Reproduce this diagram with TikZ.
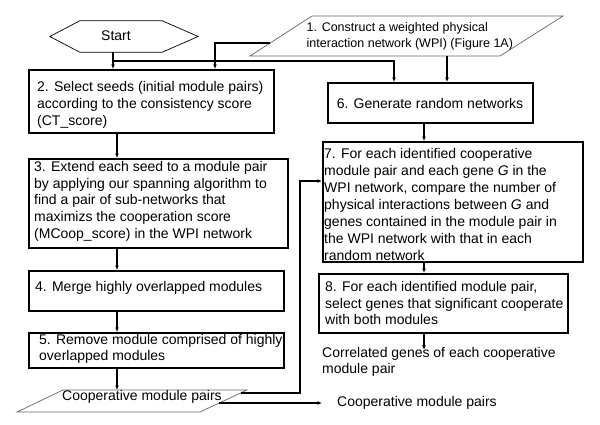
\documentclass[tikz,border=0pt]{standalone}
\usepackage{fontspec}
\setmainfont{Liberation Sans}
\usetikzlibrary{arrows.meta,calc}
\begin{document}
\begin{tikzpicture}[x=1pt,y=-1pt,
  box/.style={draw, line width=1.8pt, inner sep=0, anchor=north west},
  txt/.style={inner sep=0, anchor=north west, align=left, font=\fontsize{14}{17}\selectfont},
  conn/.style={line width=1.3pt, -{Latex[length=4.5pt,width=4pt]}},
  para/.style={draw=black!60, line width=0.7pt},
]
\useasboundingbox[fill=white] (0,0) rectangle (600,424);

% column coordinates
\coordinate (xa) at (113,0);
\coordinate (xb) at (117,0);
\coordinate (xc) at (215,0);
\coordinate (xd) at (394,0);
\coordinate (xe) at (447,0);
\coordinate (xf) at (424,0);
\coordinate (xg) at (300,0);
\coordinate (ya) at (0,61);
\coordinate (yb) at (0,181);

% Start hexagon
\node[minimum width=148, minimum height=31, inner sep=0] (start) at (124,36.5) {};
\draw[line width=0.7pt] (start.west) -- ([xshift=30]start.north west) -- ([xshift=-36]start.north east)
  -- (start.east) -- ([xshift=-36]start.south east) -- ([xshift=30]start.south west) -- cycle;
\node[inner sep=0, font=\fontsize{14}{17}\selectfont] (starttxt) at (116,36) {Start};

% WPI parallelogram
\coordinate (w1) at (250,56);
\coordinate (w2) at (312,16);
\coordinate (w3) at (563,16);
\coordinate (w4) at (500,56);
\draw[para] (w1) -- (w2) -- (w3) -- (w4) -- cycle;
\node[txt, font=\fontsize{12.5}{16}\selectfont] (wpi) at (306.5,22.5)
  {1. Construct a weighted physical\\interaction network (WPI) (Figure 1A)};
\coordinate (wpiL) at ($(w1)!0.325!(w2)$);

% left column boxes
\node[box, minimum width=245, minimum height=63] (s2) at (28,69) {};
\node[txt] (t2) at (37,81.5) {2. Select seeds (initial module pairs)\\according to the consistency score\\(CT\_score)};

\node[box, minimum width=259, minimum height=89] (s3) at (28,158) {};
\node[txt, font=\fontsize{14}{16.8}\selectfont] (t3) at (34,161) {3. Extend each seed to a module pair\\by applying our spanning algorithm to\\find a pair of sub-networks that\\maximizs the cooperation score\\(MCoop\_score) in the WPI network};

\node[box, minimum width=255, minimum height=40] (s4) at (28,270) {};
\node[txt] (t4) at (35,281.5) {4. Merge highly overlapped modules};

\node[box, minimum width=255, minimum height=35] (s5) at (28,332) {};
\node[txt, font=\fontsize{14}{16}\selectfont] (t5) at (39,334.5) {5. Remove module comprised of highly\\overlapped modules};

% cooperative module pairs parallelogram
\coordinate (c1) at (17,412);
\coordinate (c2) at (63,390);
\coordinate (c3) at (247,390);
\coordinate (c4) at (200,412);
\draw[para] (c1) -- (c2) -- (c3) -- (c4) -- cycle;
\node[inner sep=0, font=\fontsize{14}{17}\selectfont] (coop) at (142,397) {Cooperative module pairs};
\coordinate (cpa) at ($(c3)!0.136!(c4)$);
\coordinate (cpb) at ($(c3)!0.59!(c4)$);

% right column boxes
\node[box, minimum width=205, minimum height=40] (s6) at (327,82) {};
\node[inner sep=0, font=\fontsize{14}{17}\selectfont] (t6) at (430,103) {6. Generate random networks};

\node[box, minimum width=260, minimum height=120] (s7) at (322,141) {};
\node[txt] (t7) at (324,148) {7. For each identified cooperative\\module pair and each gene \textit{G} in the\\WPI network, compare the number of\\physical interactions between \textit{G} and\\genes contained in the module pair in\\the WPI network with that in each\\random network};

\node[box, minimum width=249, minimum height=59] (s8) at (318,273) {};
\node[txt, font=\fontsize{14}{16.5}\selectfont] (t8) at (325,281.5) {8. For each identified module pair,\\select genes that significant cooperate\\with both modules};

\node[txt, font=\fontsize{14}{16}\selectfont] (corr) at (322,347.5) {Correlated genes of each cooperative\\module pair};

\node[inner sep=0, anchor=west, font=\fontsize{14}{17}\selectfont] (out) at (337,403) {Cooperative module pairs};

% connectors
\draw[conn] (start.south -| xa) -- (s2.north -| xa);
\draw[conn] (ya -| xa) -- (ya -| xd) -- (s6.north -| xd);
\draw[conn] (wpiL) -- (wpiL -| xc) -- (s2.north -| xc);
\draw[conn] (w1 -| xe) -- (s6.north -| xe);
\draw[conn] (s2.south -| xb) -- (s3.north -| xb);
\draw[conn] (s3.south -| xb) -- (s4.north -| xb);
\draw[conn] (s4.south -| xb) -- (s5.north -| xb);
\draw[conn] (s5.south -| xb) -- (c2 -| xb);
\draw[conn] (cpa) -- (cpa -| xg) -- (yb -| xg) -- (yb -| s7.west);
\draw[conn] (cpb) -- ([xshift=-15]cpb -| out.west);
\draw[conn] (s6.south -| xf) -- (s7.north -| xf);
\draw[conn] (s7.south -| xf) -- (s8.north -| xf);
\draw[conn] (s8.south -| xf) -- ++(0,16);
\end{tikzpicture}
\end{document}
